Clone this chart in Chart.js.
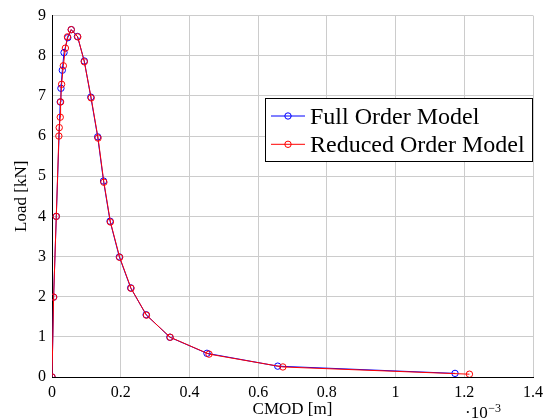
<!DOCTYPE html>
<html>
<head>
<meta charset="utf-8">
<script src="https://cdn.jsdelivr.net/npm/chart.js@4/dist/chart.umd.min.js"></script>
<style>
  html, body { margin: 0; padding: 0; background: #fff; }
  canvas { display: block; }
</style>
</head>
<body>
<canvas id="c" width="557" height="420"></canvas>
<script>
// ---- data (CMOD in 1e-3 m, load in kN) ----
const fullCMOD = [0, 0.0047, 0.0125, 0.024, 0.026, 0.030, 0.035, 0.046, 0.056, 0.074, 0.094, 0.113, 0.133, 0.150, 0.169, 0.196, 0.229, 0.274, 0.343, 0.451, 0.657, 1.173];
const fullLoad = [0, 1.99, 4.0, 6.85, 7.19, 7.64, 8.08, 8.45, 8.65, 8.48, 7.87, 6.97, 5.98, 4.88, 3.88, 2.99, 2.22, 1.55, 0.99, 0.59, 0.27, 0.09];
const redCMOD  = [0, 0.0047, 0.0125, 0.020, 0.021, 0.024, 0.025, 0.028, 0.033, 0.039, 0.045, 0.056, 0.075, 0.094, 0.114, 0.134, 0.151, 0.170, 0.197, 0.230, 0.275, 0.344, 0.457, 0.672, 1.215];
const redLoad  = [0, 1.99, 4.0, 6.0, 6.21, 6.47, 6.85, 7.29, 7.75, 8.19, 8.47, 8.65, 8.47, 7.85, 6.95, 5.95, 4.85, 3.86, 2.98, 2.21, 1.54, 0.99, 0.57, 0.25, 0.07];
const seriesLabels = ['Full Order Model', 'Reduced Order Model'];
const seriesColors = ['#0000ff', '#ff0000'];
const xTicks = [0, 0.2, 0.4, 0.6, 0.8, 1, 1.2, 1.4];
const yTicks = [0, 1, 2, 3, 4, 5, 6, 7, 8, 9];

const SERIF = "'Liberation Serif', 'Times New Roman', 'DejaVu Serif', serif";

function pts(xs, ys) { return xs.map((x, i) => ({ x: x, y: ys[i] })); }

const legendPlugin = {
  id: 'boxLegend',
  afterDraw(chart) {
    const ctx = chart.ctx;
    const ca = chart.chartArea;
    ctx.save();
    // exponent label
    ctx.fillStyle = '#000';
    ctx.textBaseline = 'alphabetic';
    ctx.font = '17px ' + SERIF;
    ctx.fillText('\u00b710', 465, 418);
    const w = ctx.measureText('\u00b710').width;
    ctx.font = '12px ' + SERIF;
    ctx.fillText('\u22123', 465 + w + 0.5, 411.5);

    // legend box
    const x0 = 265, y0 = 98, x1 = ca.right, y1 = 162;
    ctx.fillStyle = '#fff';
    ctx.fillRect(x0, y0, x1 - x0, y1 - y0);
    ctx.strokeStyle = '#000';
    ctx.lineWidth = 1;
    ctx.strokeRect(x0 + 0.5, y0 + 0.5, x1 - x0 - 1, y1 - y0 - 1);
    chart.data.datasets.forEach((ds, i) => {
      const cy = 116 + i * 28.3;
      ctx.strokeStyle = ds.borderColor;
      ctx.lineWidth = 1;
      ctx.beginPath();
      ctx.moveTo(271, cy);
      ctx.lineTo(305, cy);
      ctx.stroke();
      ctx.beginPath();
      ctx.arc(288, cy, 3.2, 0, Math.PI * 2);
      ctx.stroke();
      ctx.fillStyle = '#000';
      ctx.font = '24px ' + SERIF;
      ctx.textBaseline = 'alphabetic';
      ctx.fillText(ds.label, 310, cy + 7.8);
    });
    ctx.restore();
  }
};

new Chart(document.getElementById('c'), {
  type: 'scatter',
  data: {
    datasets: [
      {
        label: seriesLabels[0],
        data: pts(fullCMOD, fullLoad),
        showLine: true,
        borderColor: seriesColors[0],
        backgroundColor: 'transparent',
        borderWidth: 1,
        pointRadius: 3.2,
        pointBorderWidth: 1,
        pointBackgroundColor: 'transparent',
        pointBorderColor: seriesColors[0],
        order: 0
      },
      {
        label: seriesLabels[1],
        data: pts(redCMOD, redLoad),
        showLine: true,
        borderColor: seriesColors[1],
        backgroundColor: 'transparent',
        borderWidth: 1,
        pointRadius: 3.2,
        pointBorderWidth: 1,
        pointBackgroundColor: 'transparent',
        pointBorderColor: seriesColors[1],
        order: -1
      }
    ]
  },
  options: {
    responsive: false,
    animation: false,
    devicePixelRatio: 1,
    layout: { padding: { left: 0, top: 12, right: 24, bottom: 0 } },
    plugins: { legend: { display: false }, tooltip: { enabled: false } },
    scales: {
      x: {
        type: 'linear',
        min: 0, max: 1.4,
        afterBuildTicks(s) { s.ticks = xTicks.map(v => ({ value: v })); },
        afterFit(s) { s.height = 43; },
        grid: { color: '#cccccc', lineWidth: 1, drawTicks: false },
        border: { color: '#000', width: 1 },
        ticks: {
          padding: 6,
          color: '#000',
          font: { family: SERIF, size: 16 },
          maxRotation: 0,
          callback: v => String(v)
        },
        title: {
          display: true, text: 'CMOD [m]', color: '#000',
          font: { family: SERIF, size: 17 },
          padding: { top: 0, bottom: 0 }
        }
      },
      y: {
        type: 'linear',
        min: 0, max: 9,
        afterBuildTicks(s) { s.ticks = yTicks.map(v => ({ value: v })); },
        afterFit(s) { s.width = 52; },
        grid: { color: '#cccccc', lineWidth: 1, drawTicks: false },
        border: { color: '#000', width: 1 },
        ticks: {
          padding: 6,
          color: '#000',
          font: { family: SERIF, size: 16 },
          callback: v => String(v)
        },
        title: {
          display: true, text: 'Load [kN]', color: '#000',
          font: { family: SERIF, size: 17 },
          padding: { top: 11, bottom: 0 }
        }
      }
    }
  },
  plugins: [legendPlugin]
});
</script>
</body>
</html>
